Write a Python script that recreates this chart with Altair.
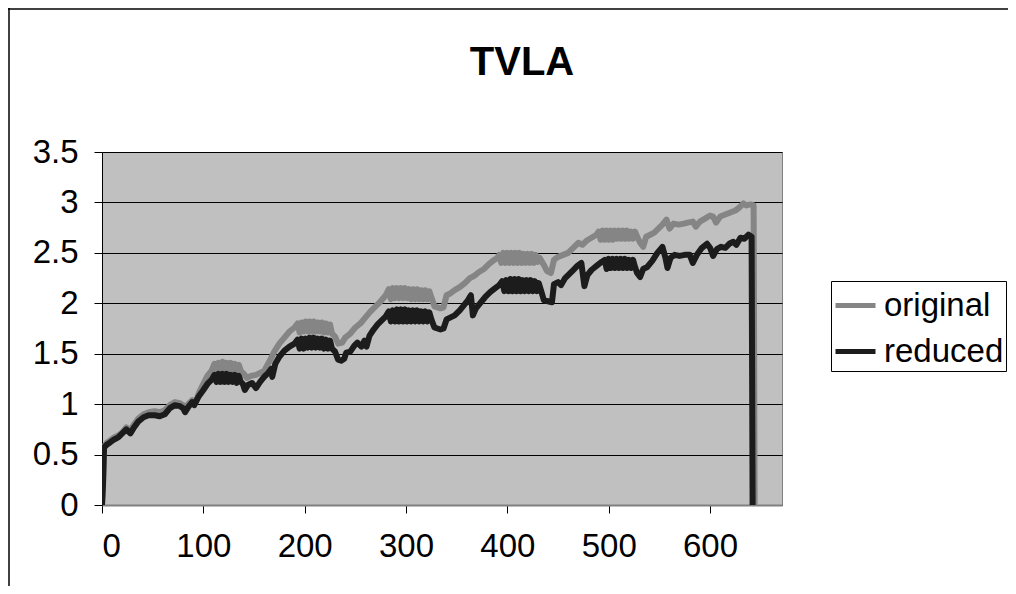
import altair as alt
import pandas as pd

chart_title = "TVLA"
series_names = ["original", "reduced"]
x_ticks = [0, 100, 200, 300, 400, 500, 600]
y_ticks = [0, 0.5, 1, 1.5, 2, 2.5, 3, 3.5]

orig_x = [0, 1, 2, 5, 8, 12, 16, 20, 24, 28, 31, 36, 41, 46, 52, 57, 62, 67, 72, 77, 80, 82, 85, 89, 92, 96, 100, 104, 108,
          111, 113, 115, 117, 119, 121, 123, 125, 127, 129, 131, 133, 135, 137,
          140, 143, 147, 152, 156, 160, 165, 170, 175, 180, 185, 190,
          193, 195, 197, 199, 201, 203, 205, 207, 209, 211, 213, 215, 217, 219, 221, 223, 225, 227,
          230, 233, 237, 240, 245, 250, 255, 260, 265, 270, 275, 280,
          283, 285, 287, 289, 291, 293, 295, 297, 299, 301, 303, 305, 307, 309, 311, 313, 315, 317, 319, 321, 323, 325,
          328, 331, 334, 337, 340, 344, 348, 353, 358, 363, 367, 372, 377, 382, 387, 390,
          392, 394, 396, 398, 400, 402, 404, 406, 408, 410, 412, 414, 416, 418, 420, 422, 424, 426, 428, 430, 432,
          436, 439, 443, 446, 450, 455, 460, 465, 470, 474, 478, 483, 488,
          490, 492, 494, 496, 498, 500, 502, 504, 506, 508, 510, 512, 514, 516, 518, 520, 522, 524, 526, 528,
          531, 534, 537, 541, 545, 549, 553, 557, 560, 564, 569, 574, 578, 583, 586, 590, 595, 600, 603, 606,
          610, 615, 620, 625, 629, 633, 636, 640, 643, 644]
orig_y = [0.0, 0.22, 0.58, 0.62, 0.64, 0.67, 0.69, 0.72, 0.77, 0.74, 0.79, 0.86, 0.90, 0.92, 0.93, 0.92, 0.94, 0.99, 1.02, 1.01, 0.99, 0.95, 1.00, 1.04, 1.01, 1.12, 1.20, 1.28, 1.33,
          1.40, 1.33, 1.41, 1.33, 1.42, 1.34, 1.41, 1.33, 1.41, 1.34, 1.40, 1.33, 1.39, 1.33,
          1.30, 1.26, 1.28, 1.29, 1.31, 1.33, 1.42, 1.52, 1.60, 1.66, 1.72, 1.76,
          1.80, 1.71, 1.81, 1.72, 1.82, 1.72, 1.82, 1.72, 1.82, 1.72, 1.81, 1.72, 1.81, 1.71, 1.80, 1.71, 1.79, 1.70,
          1.67, 1.60, 1.61, 1.66, 1.70, 1.76, 1.80, 1.86, 1.92, 1.97, 2.02, 2.08,
          2.14, 2.04, 2.15, 2.05, 2.15, 2.05, 2.15, 2.05, 2.15, 2.05, 2.14, 2.04, 2.14, 2.04, 2.14, 2.04, 2.13, 2.04, 2.13, 2.04, 2.12, 2.06,
          1.97, 1.96, 1.95, 1.96, 2.08, 2.10, 2.13, 2.16, 2.20, 2.25, 2.27, 2.31, 2.34, 2.39, 2.43, 2.45,
          2.48, 2.40, 2.50, 2.40, 2.50, 2.40, 2.50, 2.40, 2.50, 2.40, 2.50, 2.40, 2.49, 2.40, 2.49, 2.40, 2.49, 2.40, 2.48, 2.41, 2.45,
          2.38, 2.32, 2.30, 2.43, 2.46, 2.48, 2.50, 2.55, 2.60, 2.58, 2.62, 2.65, 2.68,
          2.71, 2.63, 2.72, 2.63, 2.72, 2.63, 2.72, 2.63, 2.72, 2.64, 2.72, 2.64, 2.72, 2.64, 2.72, 2.64, 2.71, 2.64, 2.71, 2.66,
          2.60, 2.56, 2.66, 2.68, 2.70, 2.74, 2.78, 2.83, 2.74, 2.79, 2.78, 2.79, 2.80, 2.81, 2.76, 2.81, 2.84, 2.87, 2.86, 2.80,
          2.86, 2.88, 2.90, 2.92, 2.95, 2.99, 2.97, 2.98, 2.97, 0.0]

red_x = [0, 1, 2, 5, 8, 12, 16, 20, 24, 28, 31, 36, 41, 46, 52, 57, 62, 67, 72, 77, 80, 82, 85, 89, 91, 95, 100, 104, 108,
         111, 113, 115, 117, 119, 121, 123, 125, 127, 129, 131, 133, 135, 137,
         139, 141, 144, 148, 152, 156, 160, 164, 167, 168, 171, 175, 180, 185, 190,
         193, 195, 197, 199, 201, 203, 205, 207, 209, 211, 213, 215, 217, 219, 221, 223, 225, 227,
         230, 233, 236, 239, 241, 245, 249, 252, 256, 259, 261, 264, 268, 272, 276, 280,
         283, 285, 287, 289, 291, 293, 295, 297, 299, 301, 303, 305, 307, 309, 311, 313, 315, 317, 319, 321, 323, 325,
         328, 331, 334, 337, 340, 344, 348, 353, 357, 361, 364, 366, 369, 373, 378, 383, 388, 392,
         395, 397, 399, 401, 403, 405, 407, 409, 411, 413, 415, 417, 419, 421, 423, 425, 427, 429, 431,
         434, 436, 440, 444, 446, 450, 453, 457, 461, 465, 469, 473, 476, 479, 483, 488, 493,
         496, 498, 500, 502, 504, 506, 508, 510, 512, 514, 516, 518, 520, 522, 524, 526,
         528, 531, 534, 538, 543, 548, 553, 556, 558, 561, 565, 570, 575, 580, 583, 587, 592, 597, 600, 603,
         607, 611, 615, 619, 623, 626, 630, 634, 638, 641, 642]
red_y = [0.0, 0.20, 0.57, 0.60, 0.62, 0.65, 0.67, 0.71, 0.75, 0.71, 0.76, 0.83, 0.87, 0.89, 0.89, 0.88, 0.90, 0.96, 0.99, 0.98, 0.96, 0.92, 0.97, 1.02, 0.99, 1.07, 1.14, 1.20, 1.24,
         1.29, 1.22, 1.30, 1.22, 1.30, 1.22, 1.30, 1.22, 1.29, 1.22, 1.29, 1.21, 1.28, 1.22,
         1.20, 1.14, 1.19, 1.21, 1.16, 1.22, 1.27, 1.31, 1.35, 1.27, 1.40, 1.47, 1.53, 1.57, 1.60,
         1.64, 1.55, 1.65, 1.55, 1.65, 1.56, 1.66, 1.56, 1.66, 1.56, 1.65, 1.56, 1.65, 1.55, 1.64, 1.55, 1.63, 1.55,
         1.52, 1.44, 1.43, 1.45, 1.51, 1.52, 1.58, 1.61, 1.57, 1.63, 1.57, 1.68, 1.74, 1.79, 1.83, 1.87,
         1.92, 1.82, 1.93, 1.82, 1.94, 1.82, 1.94, 1.82, 1.94, 1.82, 1.93, 1.82, 1.93, 1.82, 1.93, 1.82, 1.92, 1.82, 1.92, 1.82, 1.91, 1.84,
         1.76, 1.75, 1.74, 1.75, 1.84, 1.86, 1.88, 1.93, 1.98, 2.03, 2.08, 1.88, 1.95, 2.00, 2.06, 2.11, 2.15, 2.18,
         2.22, 2.12, 2.23, 2.12, 2.24, 2.12, 2.24, 2.12, 2.24, 2.12, 2.23, 2.12, 2.23, 2.12, 2.23, 2.12, 2.22, 2.12, 2.20,
         2.10, 2.03, 2.02, 2.01, 2.19, 2.21, 2.18, 2.25, 2.29, 2.33, 2.37, 2.40, 2.17, 2.28, 2.33, 2.37, 2.41,
         2.43, 2.34, 2.44, 2.35, 2.44, 2.35, 2.44, 2.35, 2.44, 2.35, 2.44, 2.35, 2.43, 2.35, 2.43, 2.36,
         2.30, 2.26, 2.34, 2.36, 2.42, 2.50, 2.56, 2.45, 2.35, 2.45, 2.48, 2.47, 2.48, 2.48, 2.40, 2.48, 2.55, 2.59, 2.55, 2.47,
         2.54, 2.56, 2.55, 2.59, 2.61, 2.58, 2.65, 2.64, 2.68, 2.66, 0.0]

df = pd.DataFrame({
    "x": orig_x + red_x,
    "y": orig_y + red_y,
    "series": [series_names[0]] * len(orig_x) + [series_names[1]] * len(red_x),
})

W, H = 680, 353
PAD = {"left": 94, "top": 144, "right": 226, "bottom": 81}
FONT = "Liberation Sans"

lines = alt.Chart(df).mark_line(strokeWidth=6, strokeJoin="round", clip=True).encode(
    x=alt.X("x:Q",
            scale=alt.Scale(domain=[0, 671], nice=False, zero=False),
            axis=alt.Axis(values=x_ticks, title=None, grid=False, format="d",
                          labelFontSize=33, labelPadding=17, tickSize=8,
                          tickColor="#000000", domainColor="#808080", domainWidth=2,
                          labelColor="#000000", labelFont=FONT)),
    y=alt.Y("y:Q",
            scale=alt.Scale(domain=[0, 3.5], nice=False),
            axis=alt.Axis(values=y_ticks, title=None, grid=True, format=".1~f",
                          gridColor="#000000", gridWidth=1, gridOpacity=1,
                          labelFontSize=33, labelPadding=16, tickSize=8,
                          tickColor="#000000", domainColor="#000000", domainWidth=1,
                          labelColor="#000000", labelFont=FONT)),
    color=alt.Color("series:N",
                    scale=alt.Scale(domain=series_names, range=["#858585", "#1c1c1c"]),
                    legend=alt.Legend(title=None, orient="none", legendX=729, legendY=129,
                                      strokeColor="#000000", fillColor="#ffffff",
                                      padding=2, rowPadding=6,
                                      symbolType="stroke", symbolStrokeWidth=5, symbolSize=1600,
                                      labelFontSize=33, labelFont=FONT, labelColor="#000000",
                                      labelOffset=6)),
)

frame_df = pd.DataFrame({"k": [0]})
left_edge = alt.Chart(frame_df).mark_rule(color="#000000", strokeWidth=1.5).encode(
    x=alt.value(-93), y=alt.value(-144), y2=alt.value(H + 81))
top_edge = alt.Chart(frame_df).mark_rule(color="#000000", strokeWidth=1.5).encode(
    x=alt.value(-94), x2=alt.value(W + 226), y=alt.value(-143))
title_text = alt.Chart(frame_df).mark_text(
    text=chart_title, fontSize=40, fontWeight="bold", font=FONT,
    align="center", baseline="alphabetic", color="#000000"
).encode(x=alt.value(420), y=alt.value(-77))

chart = alt.layer(lines, left_edge, top_edge, title_text).properties(
    width=W, height=H,
    padding=PAD,
    autosize=alt.AutoSizeParams(type="none"),
    background="#ffffff",
).configure_view(
    fill="#c0c0c0", stroke="#808080", strokeWidth=1
)

chart.save("out.html", embed_options={"renderer": "svg", "actions": False})
